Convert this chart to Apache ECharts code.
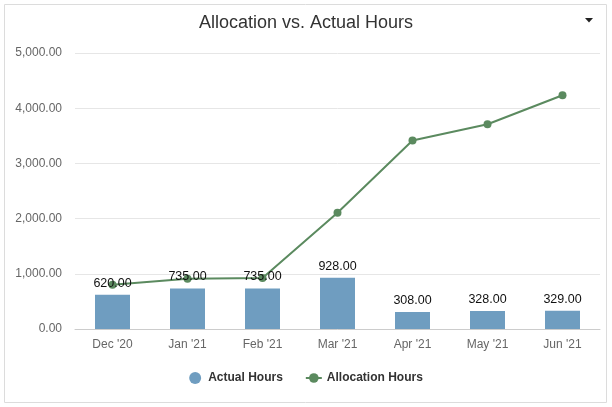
<!DOCTYPE html>
<html>
<head>
<meta charset="utf-8">
<script src="https://cdn.jsdelivr.net/npm/echarts@6/dist/echarts.min.js"></script>
<style>html,body{margin:0;padding:0;background:#fff}#c{width:612px;height:407px}</style>
</head>
<body>
<div id="c"></div>
<script>
var categories = ["Dec '20", "Jan '21", "Feb '21", "Mar '21", "Apr '21", "May '21", "Jun '21"];
var actualHours = [620, 735, 735, 928, 308, 328, 329];
var allocationHours = [802, 910, 923, 2105, 3415, 3710, 4235];
var yTicks = [0, 1000, 2000, 3000, 4000, 5000];

var chart = echarts.init(document.getElementById('c'), null, {renderer: 'canvas'});
var fmt = function (v) { return Number(v).toLocaleString('en-US', {minimumFractionDigits: 2, maximumFractionDigits: 2}); };
chart.setOption({
  animation: false,
  textStyle: {fontFamily: 'Liberation Sans, Arial, sans-serif'},
  title: {
    text: 'Allocation vs. Actual Hours', left: 'center', top: 9,
    textStyle: {fontSize: 18, fontWeight: 'normal', color: '#333', fontFamily: 'Liberation Sans, Arial, sans-serif'}
  },
  graphic: [
    {type: 'rect', shape: {x: 4.5, y: 4.5, width: 602, height: 398}, style: {fill: 'none', stroke: '#dcdcdc', lineWidth: 1}, silent: true, z: -1},
    {type: 'polygon', shape: {points: [[585, 18], [593, 18], [589, 22.5]]}, style: {fill: '#222'}}
  ],
  legend: {
    bottom: 18, left: 'center', itemGap: 22, itemWidth: 16, itemHeight: 12,
    textStyle: {fontSize: 12, fontWeight: 'bold', color: '#333', fontFamily: 'Liberation Sans, Arial, sans-serif'},
    data: [{name: 'Actual Hours', icon: 'circle'}, {name: 'Allocation Hours'}]
  },
  grid: {left: 75, right: 12, top: 53, bottom: 78, containLabel: false},
  xAxis: {
    type: 'category', data: categories,
    axisLine: {lineStyle: {color: '#ccc'}}, axisTick: {show: false},
    axisLabel: {color: '#666', fontSize: 12, margin: 10}
  },
  yAxis: {
    type: 'value', min: yTicks[0], max: yTicks[yTicks.length - 1], interval: 1000,
    axisLine: {show: false}, axisTick: {show: false},
    splitLine: {lineStyle: {color: '#e6e6e6'}},
    axisLabel: {color: '#666', fontSize: 12, margin: 13, formatter: fmt}
  },
  series: [
    {
      name: 'Actual Hours', type: 'bar', data: actualHours, barWidth: 35,
      itemStyle: {color: '#6f9dc0'},
      label: {show: true, position: 'top', distance: 5, color: '#111', fontSize: 12.5, formatter: function (p) { return fmt(p.value); }},
      z: 3
    },
    {
      name: 'Allocation Hours', type: 'line', data: allocationHours,
      symbol: 'circle', symbolSize: 8,
      lineStyle: {color: '#5b8a5f', width: 2},
      itemStyle: {color: '#5b8a5f'},
      z: 2
    }
  ]
});
</script>
</body>
</html>
